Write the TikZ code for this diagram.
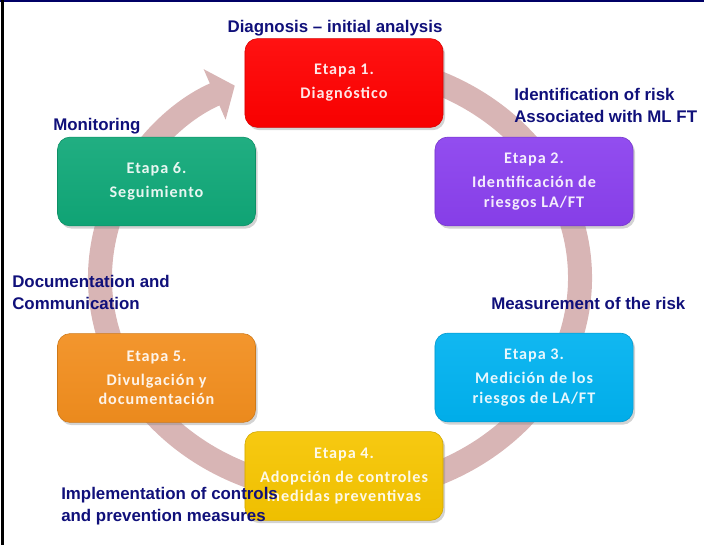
\documentclass[tikz,border=0pt]{standalone}
\usepackage{fontspec}
\setmainfont{Liberation Sans}
\newfontfamily\etapafont[LetterSpace=6]{Carlito}
\usetikzlibrary{arrows.meta,shadows}

\definecolor{ringcol}{HTML}{D8B5B5}
\definecolor{labelcol}{HTML}{10107A}
\definecolor{framecol}{HTML}{000066}
\definecolor{redbox}{HTML}{FF0000}
\definecolor{purplebox}{HTML}{8A40EE}
\definecolor{cyanbox}{HTML}{00B2F0}
\definecolor{yellowbox}{HTML}{F6C500}
\definecolor{orangebox}{HTML}{F28E1E}
\definecolor{greenbox}{HTML}{10A878}

\tikzset{
  etapa/.style={rounded corners=9pt, minimum width=4.95cm, minimum height=2.22cm,
    align=center, text=white, text opacity=0.9,
    font=\etapafont\bfseries\fontsize{11.5}{14}\selectfont,
    top color=#1!93!white, bottom color=#1!97!black, draw=#1!85!black, line width=0.4pt,
    drop shadow={opacity=0.35, shadow xshift=1.5pt, shadow yshift=-2pt}},
  rotulo/.style={text=labelcol, font=\bfseries\fontsize{12}{15.5}\selectfont, align=left, inner sep=0pt}
}

\begin{document}
\begin{tikzpicture}[x=0.025cm,y=-0.025cm]
            \useasboundingbox (0,0) rectangle (704,545);

            % frame
            \draw[framecol, line width=0.04cm] (0,0.8) -- (704,0.8);
            \draw[black, line width=0.075cm] (2.5,0) -- (2.5,545);

            % ring arrow
            \coordinate (c) at (340,278);
            \draw[ringcol, line width=0.6cm, -{Triangle[width=1.35cm, length=0.55cm]}]
              (c) ++(-80:240 and 214) arc[start angle=-80, end angle=244, x radius=240, y radius=214];

            % stages
            \node[etapa=redbox] (e1) at (344,83) {Etapa 1.\\[3pt]Diagnóstico};
            \node[etapa=purplebox] (e2) at (534,181.5) {Etapa 2.\\[3pt]Identificación de\\riesgos LA/FT};
            \node[etapa=cyanbox] (e3) at (534,377.5) {Etapa 3.\\[3pt]Medición de los\\riesgos de LA/FT};
            \node[etapa=yellowbox] (e4) at (344,476) {Etapa 4.\\[3pt]Adopción de controles\\medidas preventivas};
            \node[etapa=orangebox] (e5) at (156.5,378) {Etapa 5.\\[3pt]Divulgación y\\documentación};
            \node[etapa=greenbox] (e6) at (156.5,181.5) {Etapa 6.\\[3pt]Seguimiento};

            % labels
            \node[rotulo, anchor=north] (l1) at (335,20) {Diagnosis – initial analysis};
            \node[rotulo, anchor=north west] (l2) at (514,88) {Identification of risk\\Associated with ML FT};
            \node[rotulo, anchor=north west] (l3) at (491,297) {Measurement of the risk};
            \node[rotulo, anchor=north west] (l4) at (61,487) {Implementation of controls\\and prevention measures};
            \node[rotulo, anchor=north west] (l5) at (12,275) {Documentation and\\Communication};
            \node[rotulo, anchor=north west] (l6) at (53,118) {Monitoring};

        \end{tikzpicture}
\end{document}
